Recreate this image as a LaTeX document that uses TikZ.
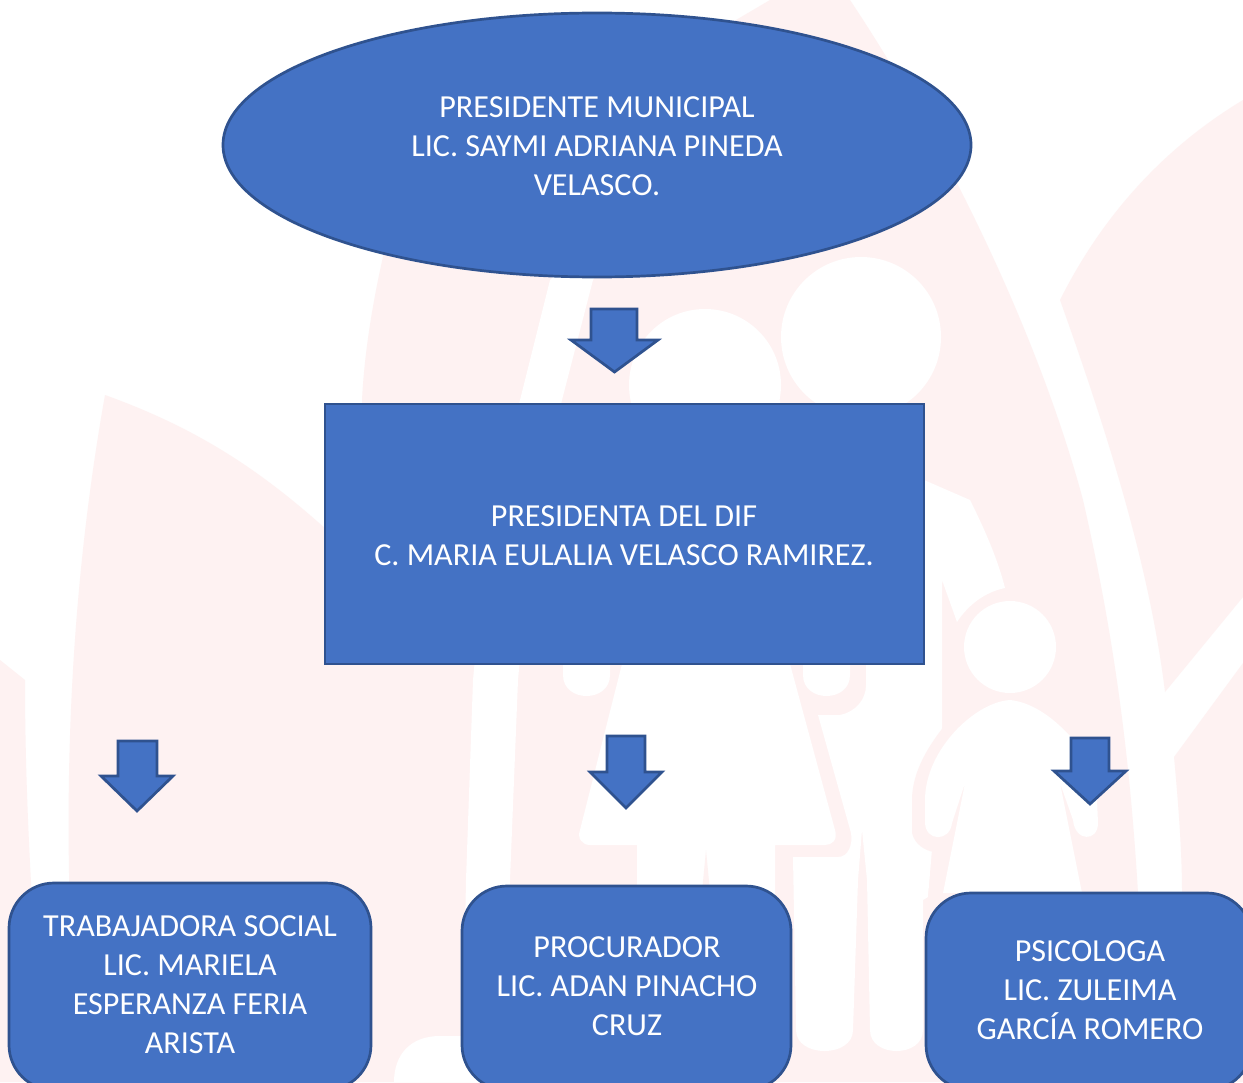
\documentclass[tikz,border=0pt]{standalone}
\usepackage{fontspec}
\setmainfont{Carlito}
\definecolor{boxblue}{HTML}{4472C4}
\definecolor{boxline}{HTML}{2F528F}
\definecolor{wm}{HTML}{FEF2F2}
\tikzset{
  x=0.01cm,y=-0.01cm,
  shapebase/.style={fill=boxblue,draw=boxline,line width=0.027cm},
  label/.style={text=white,align=center,font=\fontsize{9.13}{11.1}\selectfont,inner sep=0pt},
  arrowshape/.style={shapebase},
  card/.style={shapebase,rounded corners=0.45cm}
}
\newcommand{\downarrowshape}[7]{%
  \draw[arrowshape] (#2,#6) -- (#3,#6) -- (#3,#7) -- (#5,#7) -- ({(#4+#5)/2},#1) -- (#4,#7) -- (#2,#7) -- cycle;}
\begin{document}
\begin{tikzpicture}
\useasboundingbox (0,0) rectangle (1243,1082);
\fill[white] (0,0) rectangle (1243,1082);
\begin{scope}
\clip (0,0) rectangle (1243,1082);
% watermark: pink petals
\fill[wm] (850,0) .. controls (950,150) and (1040,340) .. (1083,500)
  .. controls (1115,640) and (1130,760) .. (1138,893) -- (1146,1082) -- (362,1082) -- (362,400)
  .. controls (364,360) and (370,320) .. (378,280) -- (395,200) -- (600,100) -- (770,0) -- cycle;
\fill[wm] (105,395) .. controls (230,440) and (300,500) .. (400,600) -- (470,1082) -- (80,1082)
  .. controls (60,850) and (65,620) .. (105,395) -- cycle;
\fill[wm] (0,660) -- (25,680) .. controls (25,780) and (30,900) .. (45,1082) -- (0,1082) -- cycle;
\fill[wm] (1243,100) .. controls (1160,150) and (1100,220) .. (1060,300)
  .. controls (1110,440) and (1150,570) .. (1165,692) -- (1243,597) -- cycle;
\fill[wm] (1243,663) -- (1174,757) .. controls (1178,800) and (1182,850) .. (1182,893) -- (1190,1082) -- (1243,1082) -- cycle;
% white band
\fill[white] (590,240) -- (550,280) -- (520,400) .. controls (495,500) and (480,600) .. (473,680)
  -- (466,880) -- (462,1082) -- (508,1082) -- (510,880) -- (518,680)
  .. controls (525,600) and (540,500) .. (562,400) -- (593,280) -- (620,240) -- cycle;
% white heads
\fill[white] (861,337) circle (80);
\fill[white] (705,385) circle (76);
% white adult on the right
\fill[white] (800,404) -- (924,404) -- (924,480) -- (970,500) .. controls (985,530) and (998,560) .. (1005,588)
  .. controls (985,592) and (968,605) .. (957,622) -- (942,580) -- (942,730) -- (928,897) -- (923,900)
  -- (923,1030) .. controls (923,1058) and (870,1058) .. (870,1030) -- (867,880) -- (862,830) -- (858,880)
  -- (853,1030) .. controls (853,1058) and (796,1058) .. (796,1030) -- (793,857) -- (838,857)
  .. controls (848,857) and (853,845) .. (851,833) -- (818,715) -- (840,715)
  .. controls (855,712) and (866,700) .. (866,685) -- (866,660) -- (800,660) -- cycle;
% pink outline beside the child
\fill[wm] (945,725) .. controls (925,750) and (912,775) .. (912,800) -- (912,833)
  .. controls (915,845) and (925,850) .. (933,852) -- (928,897) -- (950,897) -- cycle;
% woman's body
\fill[white] (640,400) -- (780,400) -- (790,664) -- (835,830) .. controls (838,840) and (832,845) .. (825,845)
  -- (775,845) -- (775,1082) -- (637,1082) -- (637,845) -- (590,845)
  .. controls (582,845) and (577,838) .. (580,830) -- (622,664) -- cycle;
% hands
\fill[white] (563,650) -- (610,650) -- (610,675) .. controls (610,703) and (563,703) .. (563,675) -- cycle;
\fill[white] (803,650) -- (850,650) -- (850,675) .. controls (850,703) and (803,703) .. (803,675) -- cycle;
% spike between the legs
\fill[wm] (702,892) -- (706,850) -- (710,892) -- cycle;
% blob lower left
\fill[white] (394,1082) .. controls (394,1055) and (410,1036) .. (440,1036) -- (470,1036) -- (470,1082) -- cycle;
% child
\fill[white] (1010,647) circle (46);
\fill[white] (1010,700) .. controls (975,702) and (925,750) .. (925,800) -- (925,822)
  .. controls (925,842) and (950,842) .. (952,823) -- (965,783) -- (943,893) -- (1082,893) -- (1060,783)
  -- (1073,820) .. controls (1075,842) and (1098,842) .. (1098,823) -- (1097,800)
  .. controls (1095,770) and (1080,745) .. (1067,733) .. controls (1050,715) and (1030,702) .. (1010,700) -- cycle;
\end{scope}
% shapes
\path[shapebase] (597,145) ellipse [x radius=374, y radius=132];
\node[label] (pm) at (597,146) {PRESIDENTE MUNICIPAL\\LIC. SAYMI ADRIANA PINEDA\\VELASCO.};
\draw[shapebase] (325,404) rectangle (924,664);
\node[label] (dif) at (624,535.5) {PRESIDENTA DEL DIF\\C. MARIA EULALIA VELASCO RAMIREZ.};
\begin{scope}
\clip (0,0) rectangle (1243,1082);
\draw[card] (9,883) rectangle (371,1090);
\draw[card] (462,886) rectangle (791,1090);
\draw[card] (926,893) rectangle (1252,1090);
\end{scope}
\node[label] (ts) at (190,985) {TRABAJADORA SOCIAL\\LIC. MARIELA\\ESPERANZA FERIA\\ARISTA};
\node[label] (pr) at (627,986) {PROCURADOR\\LIC. ADAN PINACHO\\CRUZ};
\node[label] (ps) at (1090,990) {PSICOLOGA\\LIC. ZULEIMA\\GARCÍA ROMERO};
\downarrowshape{372}{591}{637}{571}{658}{309}{340}
\downarrowshape{811}{118}{157}{101}{173}{741}{776}
\downarrowshape{808}{607}{645}{590}{662}{736}{772}
\downarrowshape{804}{1071}{1109}{1054}{1126}{738}{771}
\end{tikzpicture}
\end{document}
